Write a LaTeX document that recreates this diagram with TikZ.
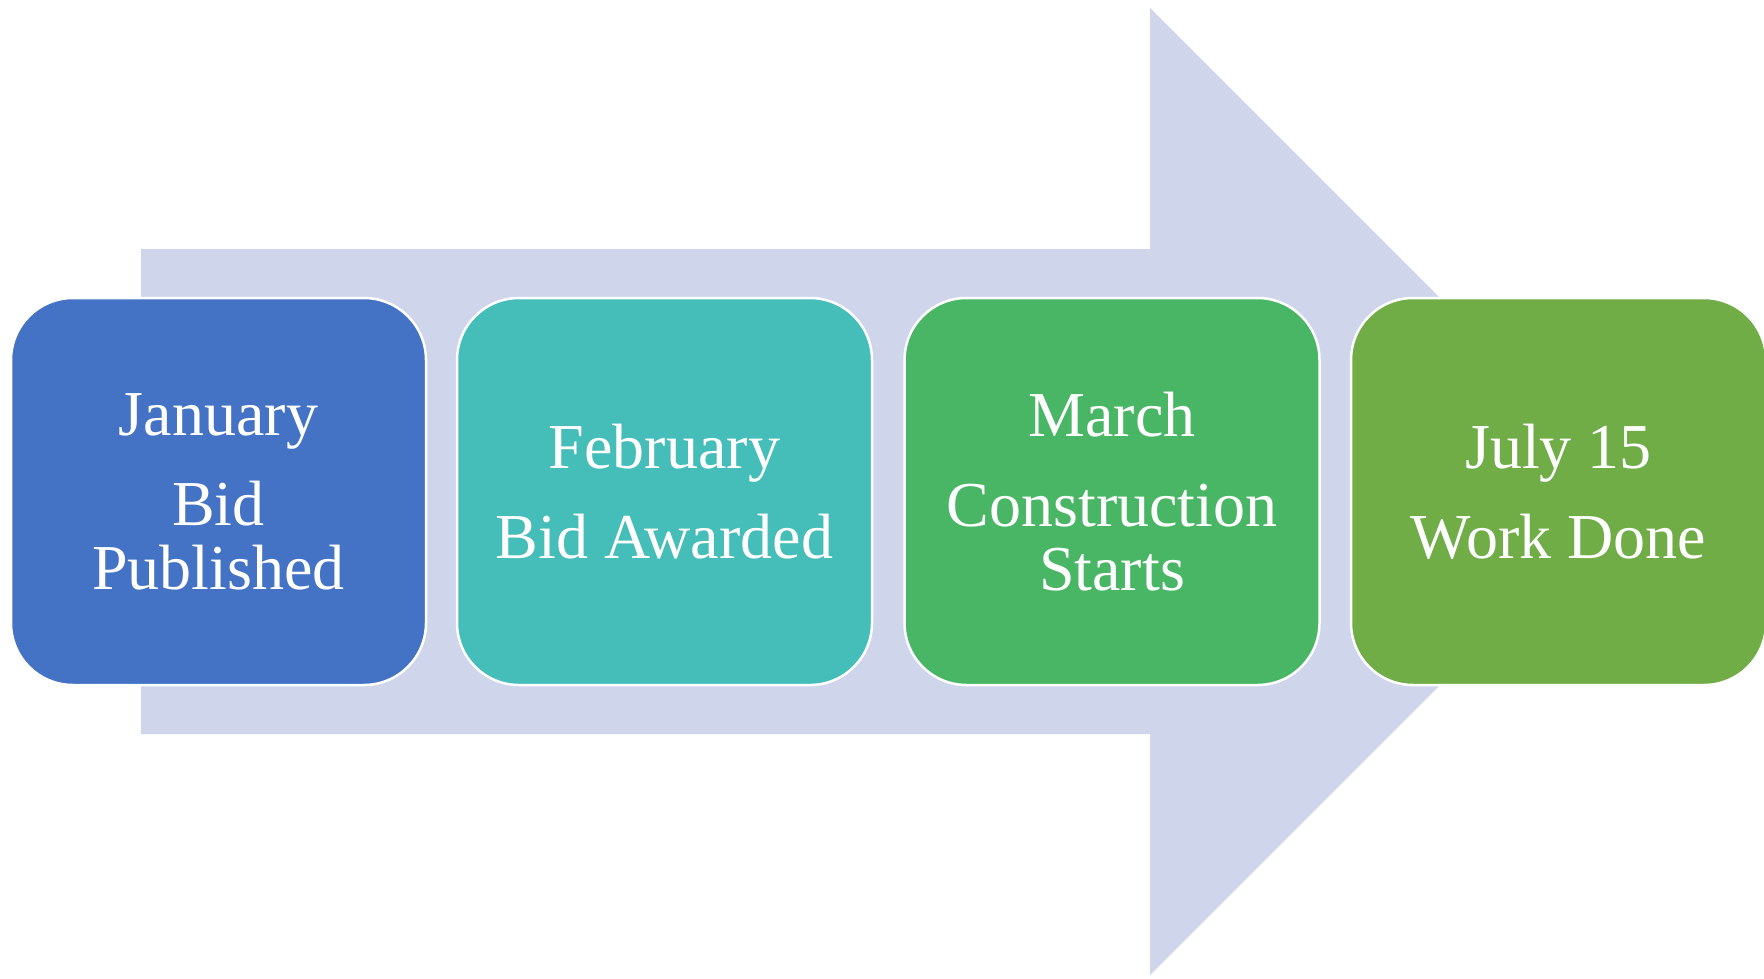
\documentclass[tikz,border=0pt]{standalone}
\usepackage{fontspec}
\setmainfont{Liberation Serif}
\usepackage{tikz}
\definecolor{arrowbg}{HTML}{CFD5EA}
\definecolor{stageA}{HTML}{4472C4}
\definecolor{stageB}{HTML}{45BDB8}
\definecolor{stageC}{HTML}{48B664}
\definecolor{stageD}{HTML}{70AD47}

\begin{document}
\begin{tikzpicture}
  [
    x=1pt, y=-1pt,
    stage/.style =
      {draw=white, line width=2.5pt, rounded corners=62pt, align=center,
       text=white, minimum width=415pt, minimum height=387pt,
       font=\fontsize{64}{64}\selectfont}
  ]
  \useasboundingbox (0,0) rectangle (1764,979);

  \fill[arrowbg] (141,249) -- (1150,249) -- (1150,8) -- (1633.5,491.5)
    -- (1150,975) -- (1150,734) -- (141,734) -- cycle;

  \node [stage, fill=stageA] at ( 218.5,491.5) (jan) {January\\[26pt]Bid\\Published};
  \node [stage, fill=stageB] at ( 664.5,491.5) (feb) {February\\[26pt]Bid Awarded};
  \node [stage, fill=stageC] at (1112.0,491.5) (mar) {March\\[26pt]Construction\\Starts};
  \node [stage, fill=stageD] at (1558.5,491.5) (jul) {July 15\\[26pt]Work Done};
\end{tikzpicture}
\end{document}
